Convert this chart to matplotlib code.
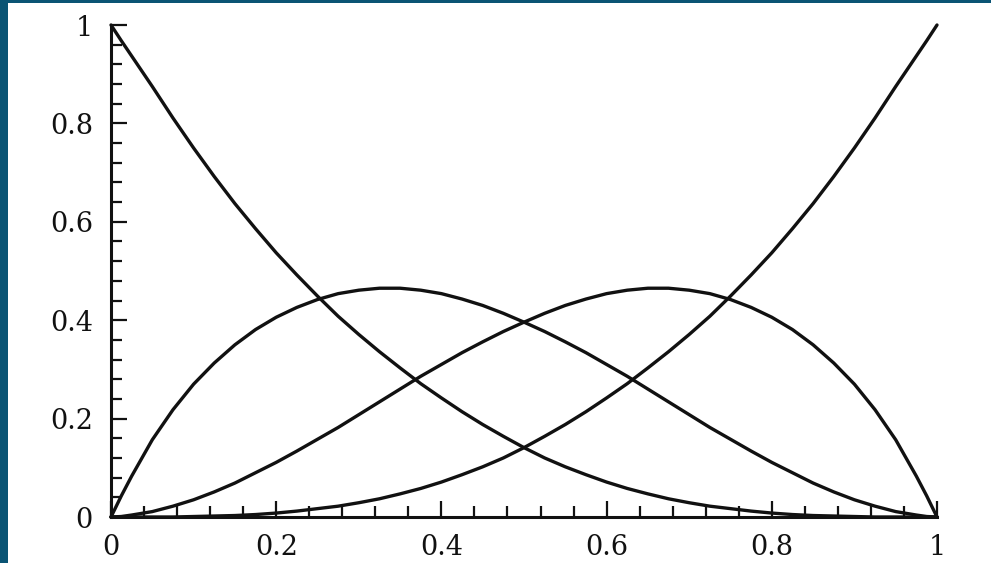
import matplotlib
matplotlib.use("Agg")
import matplotlib.pyplot as plt
from matplotlib.ticker import MultipleLocator, FixedLocator, FuncFormatter
from matplotlib.patches import Rectangle

# sample positions along the parameter axis
x_vals = [0.000, 0.0125, 0.025, 0.050, 0.075, 0.100, 0.125, 0.150, 0.175, 0.200, 0.225,
          0.250, 0.275, 0.300, 0.325, 0.350, 0.375, 0.400, 0.425, 0.450, 0.475,
          0.500, 0.525, 0.550, 0.575, 0.600, 0.625, 0.650, 0.675, 0.700, 0.725,
          0.750, 0.775, 0.800, 0.825, 0.850, 0.875, 0.900, 0.925, 0.950, 0.975, 0.9875, 1.000]

# curve 1: falls from 1 at the left
curve_a = [1.000, 0.968, 0.937, 0.875, 0.811, 0.750, 0.692, 0.637, 0.586, 0.537, 0.492,
           0.449, 0.408, 0.371, 0.336, 0.303, 0.271, 0.242, 0.214, 0.188, 0.164,
           0.141, 0.120, 0.102, 0.086, 0.071, 0.058, 0.047, 0.037, 0.029, 0.022,
           0.017, 0.012, 0.008, 0.005, 0.003, 0.002, 0.001, 0.000, 0.000, 0.000, 0.000, 0.000]

# curve 2: hump peaking near x = 1/3
curve_b = [0.000, 0.043, 0.083, 0.157, 0.218, 0.270, 0.313, 0.350, 0.381, 0.406, 0.426,
           0.442, 0.454, 0.461, 0.465, 0.465, 0.461, 0.454, 0.443, 0.430, 0.414,
           0.396, 0.377, 0.356, 0.334, 0.310, 0.286, 0.260, 0.234, 0.208, 0.182,
           0.158, 0.134, 0.111, 0.090, 0.069, 0.051, 0.035, 0.022, 0.011, 0.004, 0.001, 0.000]

# curve 3: hump peaking near x = 2/3
curve_c = [0.000, 0.001, 0.004, 0.011, 0.022, 0.035, 0.051, 0.069, 0.090, 0.111, 0.134,
           0.158, 0.182, 0.208, 0.234, 0.260, 0.286, 0.310, 0.334, 0.356, 0.377,
           0.396, 0.414, 0.430, 0.443, 0.454, 0.461, 0.465, 0.465, 0.461, 0.454,
           0.442, 0.426, 0.406, 0.381, 0.350, 0.313, 0.270, 0.218, 0.157, 0.083, 0.043, 0.000]

# curve 4: rises to 1 at the right
curve_d = [0.000, 0.000, 0.000, 0.000, 0.000, 0.001, 0.002, 0.003, 0.005, 0.008, 0.012,
           0.017, 0.022, 0.029, 0.037, 0.047, 0.058, 0.071, 0.086, 0.102, 0.120,
           0.141, 0.164, 0.188, 0.214, 0.242, 0.271, 0.303, 0.336, 0.371, 0.408,
           0.449, 0.492, 0.537, 0.586, 0.637, 0.692, 0.750, 0.811, 0.875, 0.937, 0.968, 1.000]

major_ticks = [0, 0.2, 0.4, 0.6, 0.8, 1.0]
tick_labels = ["0", "0.2", "0.4", "0.6", "0.8", "1"]

W, H = 991, 563
fig = plt.figure(figsize=(W / 100, H / 100), dpi=100)
fig.patch.set_facecolor("#0a5474")
fig.patches.append(Rectangle((8 / W, 0), 1 - 8 / W, 1 - 3 / H,
                             transform=fig.transFigure, facecolor="white",
                             edgecolor="none", zorder=-5))

ax = fig.add_axes([111 / W, 1 - 517 / H, (937 - 111) / W, (517 - 25) / H])
ax.set_facecolor("none")
ax.set_zorder(2)

for ys in (curve_a, curve_b, curve_c, curve_d):
    ax.plot(x_vals, ys, color="#111111", lw=2.4, clip_on=False,
            solid_joinstyle="round", solid_capstyle="round", zorder=3)

ax.set_xlim(0, 1)
ax.set_ylim(0, 1)

for s in ("top", "right"):
    ax.spines[s].set_visible(False)
for s in ("left", "bottom"):
    ax.spines[s].set_linewidth(2.2)
    ax.spines[s].set_color("#111111")

fmt = FuncFormatter(lambda v, p: tick_labels[major_ticks.index(round(v, 1))]
                    if round(v, 1) in major_ticks else "")
for axis in (ax.xaxis, ax.yaxis):
    axis.set_major_locator(FixedLocator(major_ticks))
    axis.set_minor_locator(MultipleLocator(0.04))
    axis.set_major_formatter(fmt)

ax.tick_params(which="major", direction="in", length=11.5, width=1.6,
               color="#111111", labelsize=19.5, labelcolor="#111111")
ax.tick_params(which="minor", direction="in", length=8, width=1.6,
               color="#111111")
ax.tick_params(axis="x", which="major", pad=12)
ax.tick_params(axis="y", which="major", pad=13)

for lab in ax.get_xticklabels() + ax.get_yticklabels():
    lab.set_family("DejaVu Serif")

fig.savefig("out.png", dpi=100, facecolor=fig.get_facecolor())
